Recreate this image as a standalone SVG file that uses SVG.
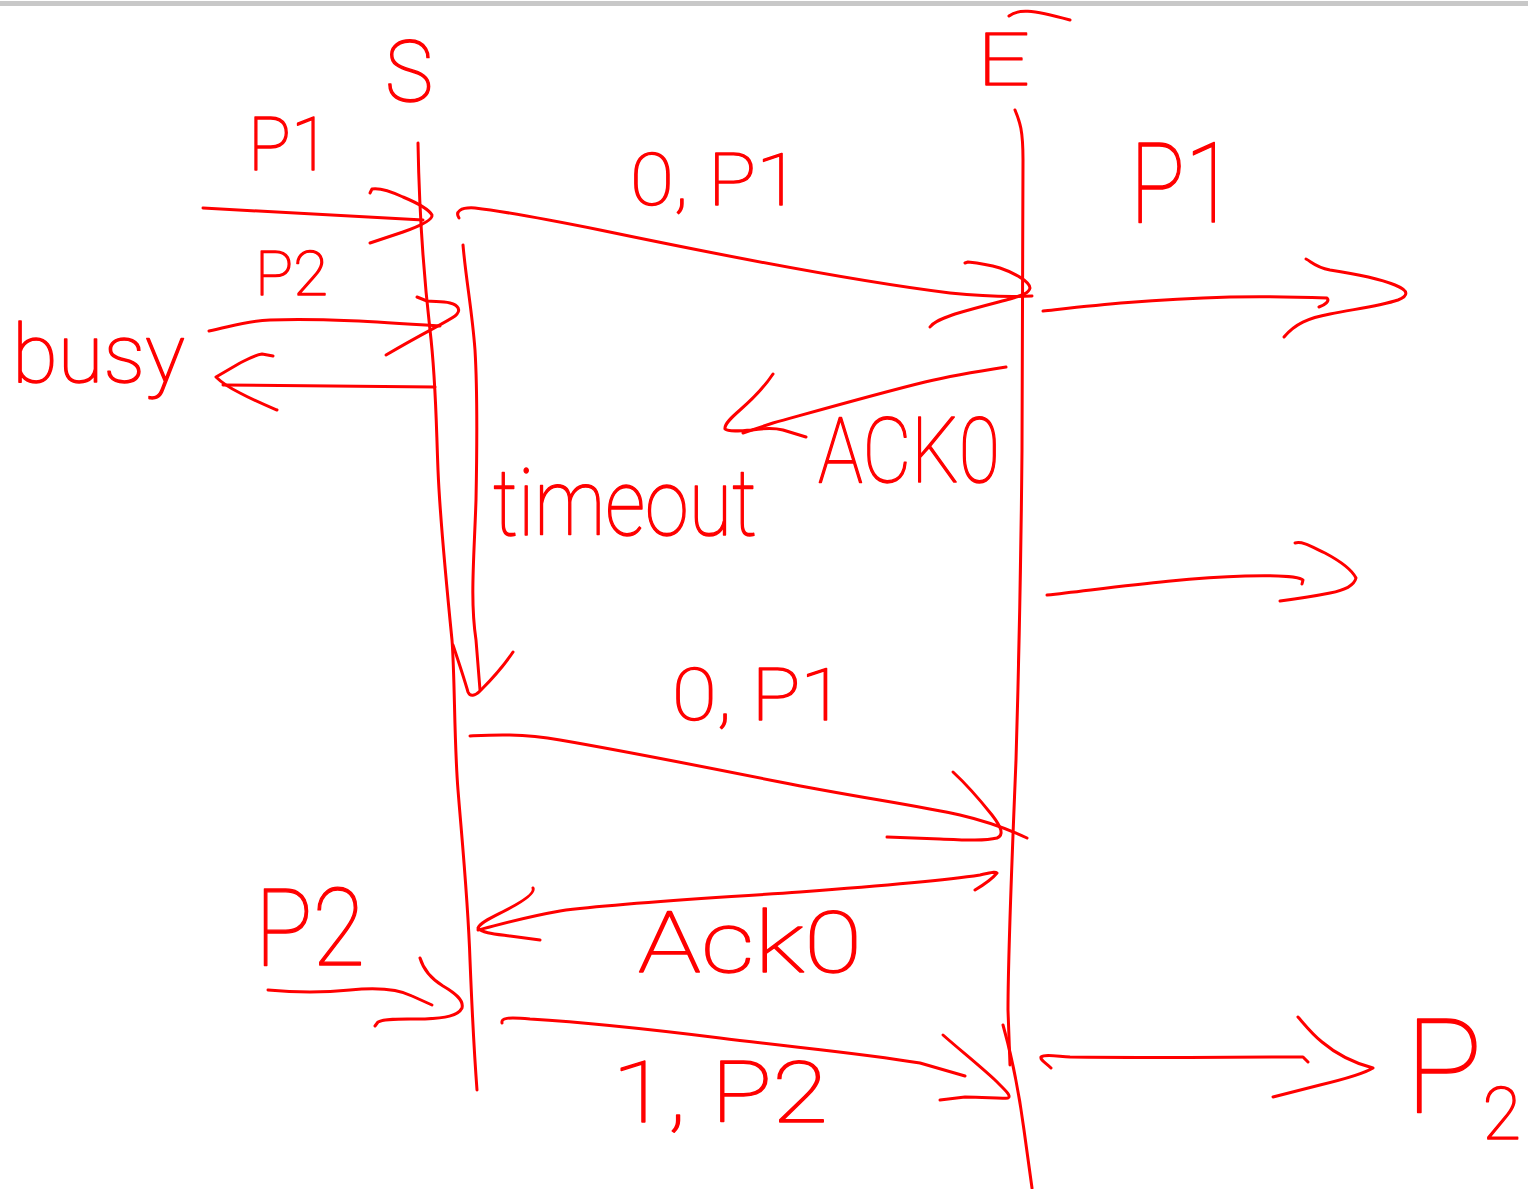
<svg xmlns="http://www.w3.org/2000/svg" width="1528" height="1189" viewBox="0 0 1528 1189">
  <style>
    .ink { fill: none; stroke: #ff0000; stroke-width: 3; stroke-linecap: round; stroke-linejoin: round; }
    .lbl { font-family: Roboto, "Liberation Sans", sans-serif; font-weight: 100; fill: #ff0000; stroke: #ff0000; stroke-width: 1.4; stroke-linejoin: round; }
  </style>
  <rect x="0" y="0" width="1528" height="1189" fill="#ffffff"/>
  <!-- toolbar edge -->
  <rect x="0" y="1" width="1528" height="5" fill="#c8c8c8"/>

  <!-- sender lifeline -->
  <g id="sender">
    <text class="lbl" x="385" y="101" font-size="85" textLength="48" lengthAdjust="spacingAndGlyphs">S</text>
    <path class="ink" d="M418,143 C419,200 422,260 430,330 C436,380 436,420 438,470 C440,520 446,580 452,640 C455,680 454,740 458,790 C462,840 468,900 470,960 C472,1010 474,1050 477,1090"/>
  </g>

  <!-- receiver lifeline -->
  <g id="receiver">
    <text class="lbl" x="977" y="85" font-size="72" textLength="53" lengthAdjust="spacingAndGlyphs">E</text>
    <path class="ink" d="M1009,16 C1018,9 1030,9 1070,20"/>
    <path class="ink" d="M1015,110 C1020,122 1023,130 1023,160 C1023,250 1022,350 1022,450 C1021,560 1019,660 1016,760 C1012,860 1008,950 1008,1010 L1010,1065"/>
    <path class="ink" d="M1003,1025 C1010,1050 1018,1085 1024,1130 L1032,1188"/>
  </g>

  <!-- messages and arrows -->
  <g id="connectors">
    <!-- P1 handed to sender -->
    <path class="ink" d="M203,208 C260,211 340,216 423,220"/>
    <path class="ink" d="M370,193 L372,189 C378,188 390,191 403,197 C415,202 428,208 432,215 C433,220 420,226 403,232 L370,243"/>
    <!-- P2 handed to sender -->
    <path class="ink" d="M209,331 C230,327 245,321 270,320 C320,318 380,322 440,326"/>
    <path class="ink" d="M417,297 L427,301 C435,302 442,301 450,303 C458,305 462,310 455,316 C445,323 425,332 386,355"/>
    <!-- busy reply -->
    <path class="ink" d="M435,387 L223,385"/>
    <path class="ink" d="M273,356 L262,354 C255,355 248,359 240,363 L216,377 C222,383 228,387 240,393 C255,401 265,405 277,410"/>
    <!-- 0,P1 -->
    <path class="ink" d="M459,218 C455,212 460,207 475,208 C510,212 560,222 600,230 C720,255 860,282 950,293 C990,297 1010,297 1032,296"/>
    <path class="ink" d="M965,263 L968,262 C978,263 990,265 1000,268 C1015,273 1030,282 1030,288 C1029,293 1023,295 1010,299 C995,303 975,308 955,314 C945,318 935,320 930,327"/>
    <!-- P1 delivered -->
    <path class="ink" d="M1043,311 C1090,306 1140,300 1230,297 C1270,296 1300,297 1327,298 C1330,301 1325,305 1319,307"/>
    <path class="ink" d="M1306,259 C1312,262 1315,267 1330,270 C1350,273 1375,277 1395,285 C1410,291 1408,296 1398,300 C1380,306 1355,309 1330,314 C1308,318 1295,324 1284,337"/>
    <!-- ACK0 lost -->
    <path class="ink" d="M1006,367 C980,371 950,376 925,382 C880,393 820,410 773,423 L743,433"/>
    <path class="ink" d="M773,374 C765,386 755,397 740,410 C732,417 724,424 725,429 C728,432 740,431 752,430 C765,428 775,428 783,430 L806,437"/>
    <!-- timeout -->
    <path class="ink" d="M463,245 C466,280 472,310 475,350 C478,400 477,450 476,500 C474,560 470,600 476,640 L480,690"/>
    <path class="ink" d="M453,645 C458,660 464,678 468,692 C470,697 475,696 480,691 C495,676 505,664 513,652"/>
    <!-- a second delivery heading right -->
    <path class="ink" d="M1047,595 C1110,588 1180,578 1245,576 C1280,575 1300,577 1303,580 L1302,584"/>
    <path class="ink" d="M1295,543 C1303,541 1312,547 1325,553 C1340,561 1352,570 1356,578 C1354,586 1345,590 1330,593 C1310,597 1295,599 1280,601"/>
    <!-- 0,P1 again -->
    <path class="ink" d="M470,736 C490,735 520,733 560,740 C630,752 700,766 780,782 C850,796 920,806 960,815 C990,822 1010,830 1027,838"/>
    <path class="ink" d="M953,772 C965,783 980,800 992,815 C1002,828 1004,835 997,838 C985,841 965,840 940,839 L887,837"/>
    <!-- Ack0 -->
    <path class="ink" d="M975,890 C985,884 993,878 997,873 C995,871 990,873 980,875 C940,881 880,886 800,892 C700,899 620,903 560,911 C520,918 495,926 478,930"/>
    <path class="ink" d="M533,888 C535,893 525,900 510,908 C495,916 480,922 478,928 C482,933 495,934 510,936 L540,940"/>
    <!-- P2 handed to sender -->
    <path class="ink" d="M268,990 C290,992 320,993 350,990 C380,987 398,989 412,996 L432,1005"/>
    <path class="ink" d="M420,958 C423,968 430,978 443,986 C455,993 464,1000 462,1008 C458,1016 445,1018 425,1019 C405,1019 385,1018 378,1022 L375,1026"/>
    <!-- 1,P2 -->
    <path class="ink" d="M502,1023 C501,1018 507,1017 530,1019 C580,1022 640,1028 720,1038 C800,1048 860,1053 920,1063 L965,1076"/>
    <path class="ink" d="M943,1035 C960,1050 980,1066 995,1080 C1005,1090 1012,1096 1008,1098 C1000,1099 985,1097 965,1097 L940,1100"/>
    <!-- P2 delivered -->
    <path class="ink" d="M1051,1068 C1046,1063 1040,1060 1041,1057 C1045,1054 1055,1056 1070,1057 C1150,1058 1230,1057 1303,1057 L1308,1062"/>
    <path class="ink" d="M1298,1017 C1305,1025 1312,1034 1322,1042 C1335,1053 1350,1062 1373,1068 C1365,1073 1345,1079 1320,1085 L1273,1097"/>
  </g>

  <!-- message labels -->
  <g id="labels">
    <text class="lbl" x="248" y="170" font-size="74" textLength="82" lengthAdjust="spacingAndGlyphs">P1</text>
    <text class="lbl" x="255" y="295" font-size="62" textLength="73" lengthAdjust="spacingAndGlyphs">P2</text>
    <text class="lbl" x="12" y="382" font-size="82" textLength="173" lengthAdjust="spacingAndGlyphs">busy</text>
    <text class="lbl" x="630" y="205" font-size="72" textLength="170" lengthAdjust="spacingAndGlyphs">0, P1</text>
    <text class="lbl" x="1130" y="222" font-size="112" textLength="105" lengthAdjust="spacingAndGlyphs">P1</text>
    <text class="lbl" x="818" y="482" font-size="90" textLength="182" lengthAdjust="spacingAndGlyphs">ACK0</text>
    <text class="lbl" x="493" y="535" font-size="92" textLength="264" lengthAdjust="spacingAndGlyphs">timeout</text>
    <text class="lbl" x="672" y="720" font-size="72" textLength="173" lengthAdjust="spacingAndGlyphs">0, P1</text>
    <text class="lbl" x="255" y="965" font-size="108" textLength="110" lengthAdjust="spacingAndGlyphs">P2</text>
    <text class="lbl" x="638" y="972" font-size="85" textLength="224" lengthAdjust="spacingAndGlyphs">Ack0</text>
    <text class="lbl" x="612" y="1122" font-size="85" textLength="216" lengthAdjust="spacingAndGlyphs">1, P2</text>
    <text class="lbl" x="1405" y="1113" font-size="132" textLength="116" lengthAdjust="spacingAndGlyphs">P<tspan font-size="72" dy="26">2</tspan></text>
  </g>
</svg>
